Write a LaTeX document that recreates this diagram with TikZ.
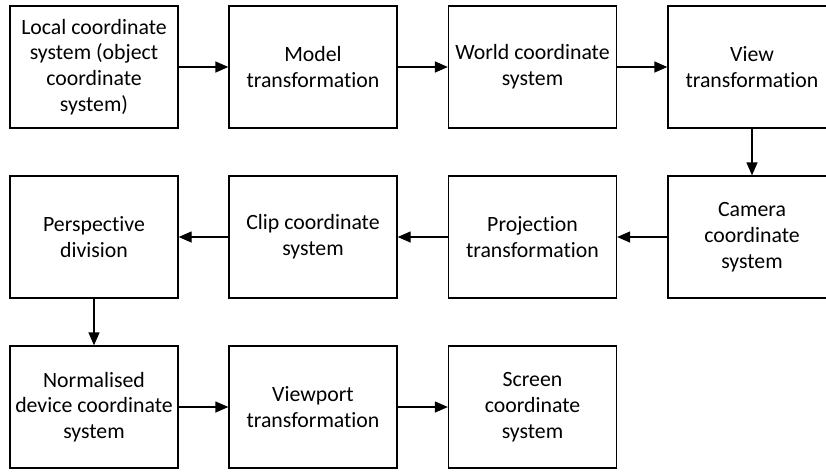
\documentclass[tikz,border=0pt]{standalone}
\usepackage{fontspec}
\setmainfont[RawFeature=-liga]{Carlito}
\usetikzlibrary{arrows.meta}
\begin{document}
\begin{tikzpicture}[x=1pt,y=-1pt,
  stage/.style={draw, line width=1.3pt, minimum width=168pt, minimum height=122pt,
    align=center, inner sep=0pt, font=\fontsize{21.8}{25.7}\selectfont},
  flow/.style={-{Triangle[length=13pt,width=11pt]}, line width=1.3pt}]
\path[use as bounding box] (0,0) rectangle (826,471);
\clip (0,0) rectangle (826,471);
% first row
\node[stage] (local) at (94,67) {Local coordinate\\system (object\\coordinate\\system)};
\node[stage] (model) at (313,67) {Model\\transformation};
\node[stage] (world) at (532.5,67) {World coordinate\\system};
\node[stage] (view) at (752,67) {View\\transformation};
% second row
\node[stage] (camera) at (752,237) {Camera\\coordinate\\system};
\node[stage] (proj) at (532.5,237) {Projection\\transformation};
\node[stage] (clip) at (313,237) {Clip coordinate\\system};
\node[stage] (persp) at (94,237) {Perspective\\division};
% third row
\node[stage] (ndc) at (94,407) {Normalised\\device coordinate\\system};
\node[stage] (viewport) at (313,407) {Viewport\\transformation};
\node[stage] (screen) at (532.5,407) {Screen\\coordinate\\system};
% connectors
\draw[flow] (local) -- (model);
\draw[flow] (model) -- (world);
\draw[flow] (world) -- (view);
\draw[flow] (view) -- (camera);
\draw[flow] (camera) -- (proj);
\draw[flow] (proj) -- (clip);
\draw[flow] (clip) -- (persp);
\draw[flow] (persp) -- (ndc);
\draw[flow] (ndc) -- (viewport);
\draw[flow] (viewport) -- (screen);
\end{tikzpicture}
\end{document}
